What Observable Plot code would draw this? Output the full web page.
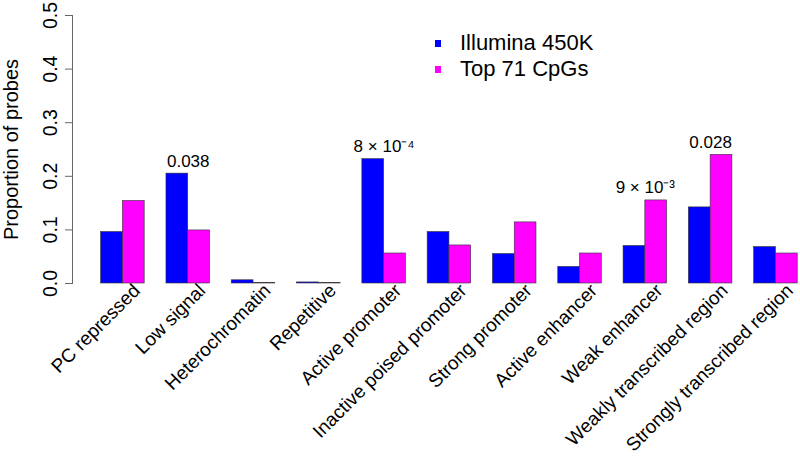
<!DOCTYPE html>
<html><head><meta charset="utf-8">
<script src="https://cdn.jsdelivr.net/npm/d3@7"></script>
<script src="https://cdn.jsdelivr.net/npm/@observablehq/plot@0.6"></script>
<style>
body{margin:0;background:#fff;}
#wrap{position:relative;width:800px;height:461px;font-family:"Liberation Sans",Arial,Helvetica,sans-serif;}
.legend{position:absolute;left:435px;top:30px;font-size:22px;line-height:26px;color:#000}
.legend .row{display:flex;align-items:center;height:26px;}
.legend .sw{width:6px;height:7px;margin-right:19px}
</style></head><body><div id="wrap"></div>
<script>
const categories = ["PC repressed","Low signal","Heterochromatin","Repetitive","Active promoter","Inactive poised promoter","Strong promoter","Active enhancer","Weak enhancer","Weakly transcribed region","Strongly transcribed region"];
const illumina450K = [0.096,0.205,0.006,0.002,0.232,0.096,0.055,0.031,0.070,0.142,0.068];
const top71CpGs = [0.154,0.099,0.001,0.001,0.056,0.071,0.114,0.056,0.155,0.240,0.056];
const seriesNames = ["Illumina 450K","Top 71 CpGs"];
const seriesColors = ["#0000ff","#ff00ff"];
const yTicks = [0,0.1,0.2,0.3,0.4,0.5];
const yTitle = "Proportion of probes";
const annotationCategories = ["Low signal","Active promoter","Weak enhancer","Weakly transcribed region"];
const annotationLabels = ["0.038","8 × 10⁻⁴","9 × 10⁻³","0.028"];

const rowsA = categories.map((c,i)=>({category:c, value:illumina450K[i]}));
const rowsB = categories.map((c,i)=>({category:c, value:top71CpGs[i]}));
const ann = annotationCategories.map((c,i)=>{
  const k = categories.indexOf(c);
  return {category:c, label:annotationLabels[i], value:Math.max(illumina450K[k], top71CpGs[k])};
});

const half = 21.77;
const chart = Plot.plot({
  width: 800, height: 461,
  marginLeft: 72, marginRight: 0, marginTop: 15, marginBottom: 178,
  style: {fontFamily: '"Liberation Sans", Arial, Helvetica, sans-serif', fontSize: "19px", background: "#fff", color: "#000"},
  x: {domain: categories, paddingInner: 1/3, paddingOuter: 0.2408, align: 0.911, round: false},
  y: {domain: [0, 0.5]},
  marks: [
    Plot.barY(rowsA, {x: "category", y: "value", fill: seriesColors[0], insetRight: half, stroke: "#333", strokeWidth: 0.6}),
    Plot.barY(rowsB, {x: "category", y: "value", fill: seriesColors[1], insetLeft: half, stroke: "#333", strokeWidth: 0.6}),
    Plot.frame({anchor: "left", stroke: "#666"}),
    Plot.axisY({ticks: yTicks, tickSize: 7, tickFormat: () => "", label: null, stroke: "#666"}),
    Plot.text(yTicks, {y: d => d, text: d => d.toFixed(1), frameAnchor: "left", dx: -16, rotate: -90, lineAnchor: "bottom", textAnchor: "middle", fontSize: 19.5}),
    Plot.text([yTitle], {frameAnchor: "left", dx: -55, rotate: -90, lineAnchor: "bottom", textAnchor: "middle", fontSize: 20}),
    Plot.axisX({tickSize: 0, tickRotate: -45, tickPadding: 4, dx: 14, label: null, fontSize: 19}),
    Plot.text(ann, {x: "category", y: "value", text: "label", dy: -7, lineAnchor: "bottom", textAnchor: "middle", fontSize: 17})
  ]
});
const wrap = document.getElementById("wrap");
wrap.appendChild(chart);
const leg = document.createElement("div");
leg.className = "legend";
seriesNames.forEach((n,i)=>{
  const r = document.createElement("div"); r.className = "row";
  const s = document.createElement("span"); s.className = "sw"; s.style.background = seriesColors[i];
  const t = document.createElement("span"); t.textContent = n;
  r.appendChild(s); r.appendChild(t); leg.appendChild(r);
});
wrap.appendChild(leg);
</script></body></html>
